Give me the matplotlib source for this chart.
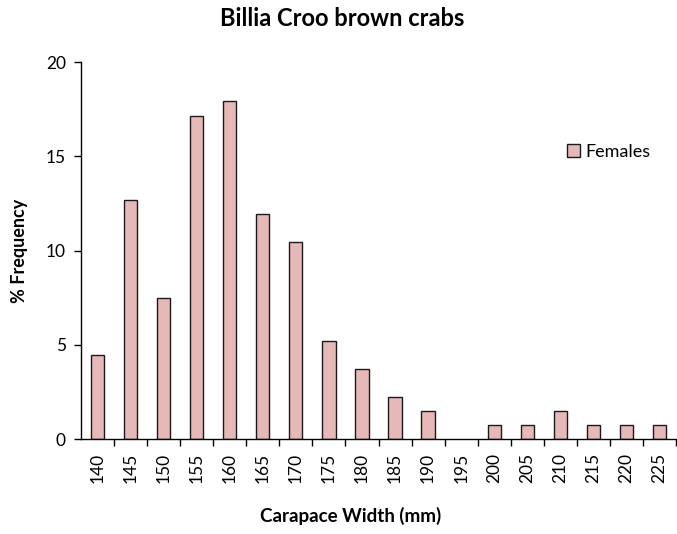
import numpy as np
import matplotlib.pyplot as plt

# carapace width classes (mm) and % frequency of females
widths = [140, 145, 150, 155, 160, 165, 170, 175, 180, 185,
          190, 195, 200, 205, 210, 215, 220, 225]
females = [4.48, 12.69, 7.46, 17.16, 17.91, 11.94, 10.45, 5.22, 3.73, 2.24,
           1.49, 0.0, 0.75, 0.75, 1.49, 0.75, 0.75, 0.75]

plt.rcParams['font.family'] = ['Lato', 'DejaVu Sans']

fig = plt.figure(figsize=(6.77, 5.34), dpi=100)
ax = fig.add_axes([81/677, 95/534, 595/677, 377/534])

x = np.arange(len(widths))
# empty classes get no outline
edges = ['#1a1a1a' if v > 0 else 'none' for v in females]
ax.bar(x, females, width=0.4, color='#E6B9B8', edgecolor=edges,
       linewidth=1.0, label='Females', zorder=2)

ax.set_xlim(-0.5, len(widths) - 0.5)
ax.set_ylim(0, 20)
ax.set_yticks([0, 5, 10, 15, 20])
ax.set_xticks(x)
ax.set_xticklabels([str(w) for w in widths], rotation=90)
ax.set_xticks(np.arange(len(widths)) + 0.5, minor=True)
ax.tick_params(axis='x', which='major', length=0, pad=10, labelsize=12.5)
ax.tick_params(axis='x', which='minor', length=5, width=1)
ax.tick_params(axis='y', length=5, width=1, labelsize=12.5, pad=6)

for side in ['top', 'right']:
    ax.spines[side].set_visible(False)
for side in ['left', 'bottom']:
    ax.spines[side].set_linewidth(1)

fig.text(20/677, 1 - 251/534, '% Frequency', rotation=90, ha='center', va='center',
         fontsize=13, fontweight='bold')
fig.text(351/677, 1 - 516/534, 'Carapace Width (mm)', ha='center', va='center',
         fontsize=13.5, fontweight='bold')
fig.text(342/677, 1 - 19/534, 'Billia Croo brown crabs', ha='center', va='center',
         fontsize=17, fontweight='bold')

leg = ax.legend(loc='center left', bbox_to_anchor=(486/595, 1 - 90/377), frameon=False,
                fontsize=13, handlelength=0.7, handleheight=0.7, handletextpad=0.3,
                borderaxespad=0, borderpad=0)

fig.savefig('out.png', dpi=100)
